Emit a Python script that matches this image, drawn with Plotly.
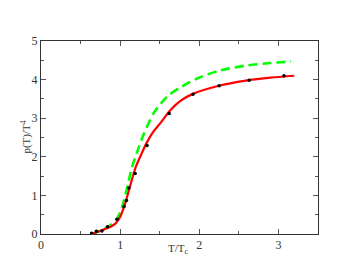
import plotly.graph_objects as go

# lattice data points
pts_x = [0.64, 0.70, 0.77, 0.84, 0.96, 1.05, 1.08, 1.11, 1.19, 1.34, 1.62, 1.92, 2.25, 2.63, 3.07]
pts_y = [0.02, 0.07, 0.08, 0.19, 0.38, 0.71, 0.87, 1.19, 1.57, 2.29, 3.12, 3.62, 3.84, 3.98, 4.10]

# red solid curve
red_x = [0.64, 0.72, 0.80, 0.88, 0.94, 1.00, 1.05, 1.10, 1.15, 1.20, 1.27, 1.34, 1.42, 1.51, 1.64, 1.77, 1.92, 2.25, 2.61, 2.90, 3.20]
red_y = [0.00, 0.06, 0.12, 0.19, 0.27, 0.44, 0.71, 1.05, 1.42, 1.75, 2.08, 2.38, 2.65, 2.88, 3.22, 3.46, 3.63, 3.84, 3.98, 4.05, 4.10]

# green dashed curve
grn_x = [0.64, 0.72, 0.80, 0.88, 0.95, 1.00, 1.05, 1.10, 1.15, 1.22, 1.30, 1.43, 1.60, 1.77, 2.02, 2.27, 2.61, 2.90, 3.16]
grn_y = [0.00, 0.06, 0.13, 0.23, 0.37, 0.56, 0.88, 1.30, 1.73, 2.15, 2.60, 3.15, 3.57, 3.81, 4.07, 4.24, 4.37, 4.43, 4.47]

x_title = "T/T<sub>c</sub>"
y_title = "p(T)/T<sup>4</sup>"

fig = go.Figure()
fig.add_trace(go.Scatter(x=grn_x, y=grn_y, mode="lines", line=dict(color="#00ff00", width=2.6, dash="9px,5px", shape="spline", smoothing=0.8), hoverinfo="skip"))
fig.add_trace(go.Scatter(x=red_x, y=red_y, mode="lines", line=dict(color="#ff0000", width=2.2, shape="spline", smoothing=0.8), hoverinfo="skip"))
fig.add_trace(go.Scatter(x=pts_x, y=pts_y, mode="markers", marker=dict(color="black", size=3.5), hoverinfo="skip"))

font = dict(family="Liberation Serif", size=12, color="#333333")
tfont = dict(family="Liberation Serif", size=11, color="#333333")
axis_common = dict(showgrid=False, zeroline=False, showline=True, linecolor="#333333", linewidth=1,
                   mirror="ticks", ticks="inside", ticklen=5, tickcolor="#555555", tickfont=font)

fig.update_layout(
    width=360, height=278,
    margin=dict(l=41, r=42, t=41, b=44),
    paper_bgcolor="white", plot_bgcolor="white",
    showlegend=False,
    xaxis=dict(range=[0, 3.5], dtick=1, tick0=0,
               minor=dict(dtick=0.5, ticklen=3, ticks="inside", tickcolor="#555555"), **axis_common),
    yaxis=dict(range=[0, 5], dtick=1, tick0=0,
               minor=dict(dtick=0.5, ticklen=3, ticks="inside", tickcolor="#555555"), **axis_common),
    annotations=[
        dict(text=x_title, xref="paper", yref="paper", x=0.497, y=-0.077, xanchor="center", yanchor="middle",
             showarrow=False, font=tfont),
        dict(text=y_title, xref="paper", yref="paper", x=-0.054, y=0.5, xanchor="center", yanchor="middle",
             textangle=-90, showarrow=False, font=tfont),
    ],
)

fig.write_html("out.html", config={"displayModeBar": False}, post_script="document.body.style.margin='0px';")
